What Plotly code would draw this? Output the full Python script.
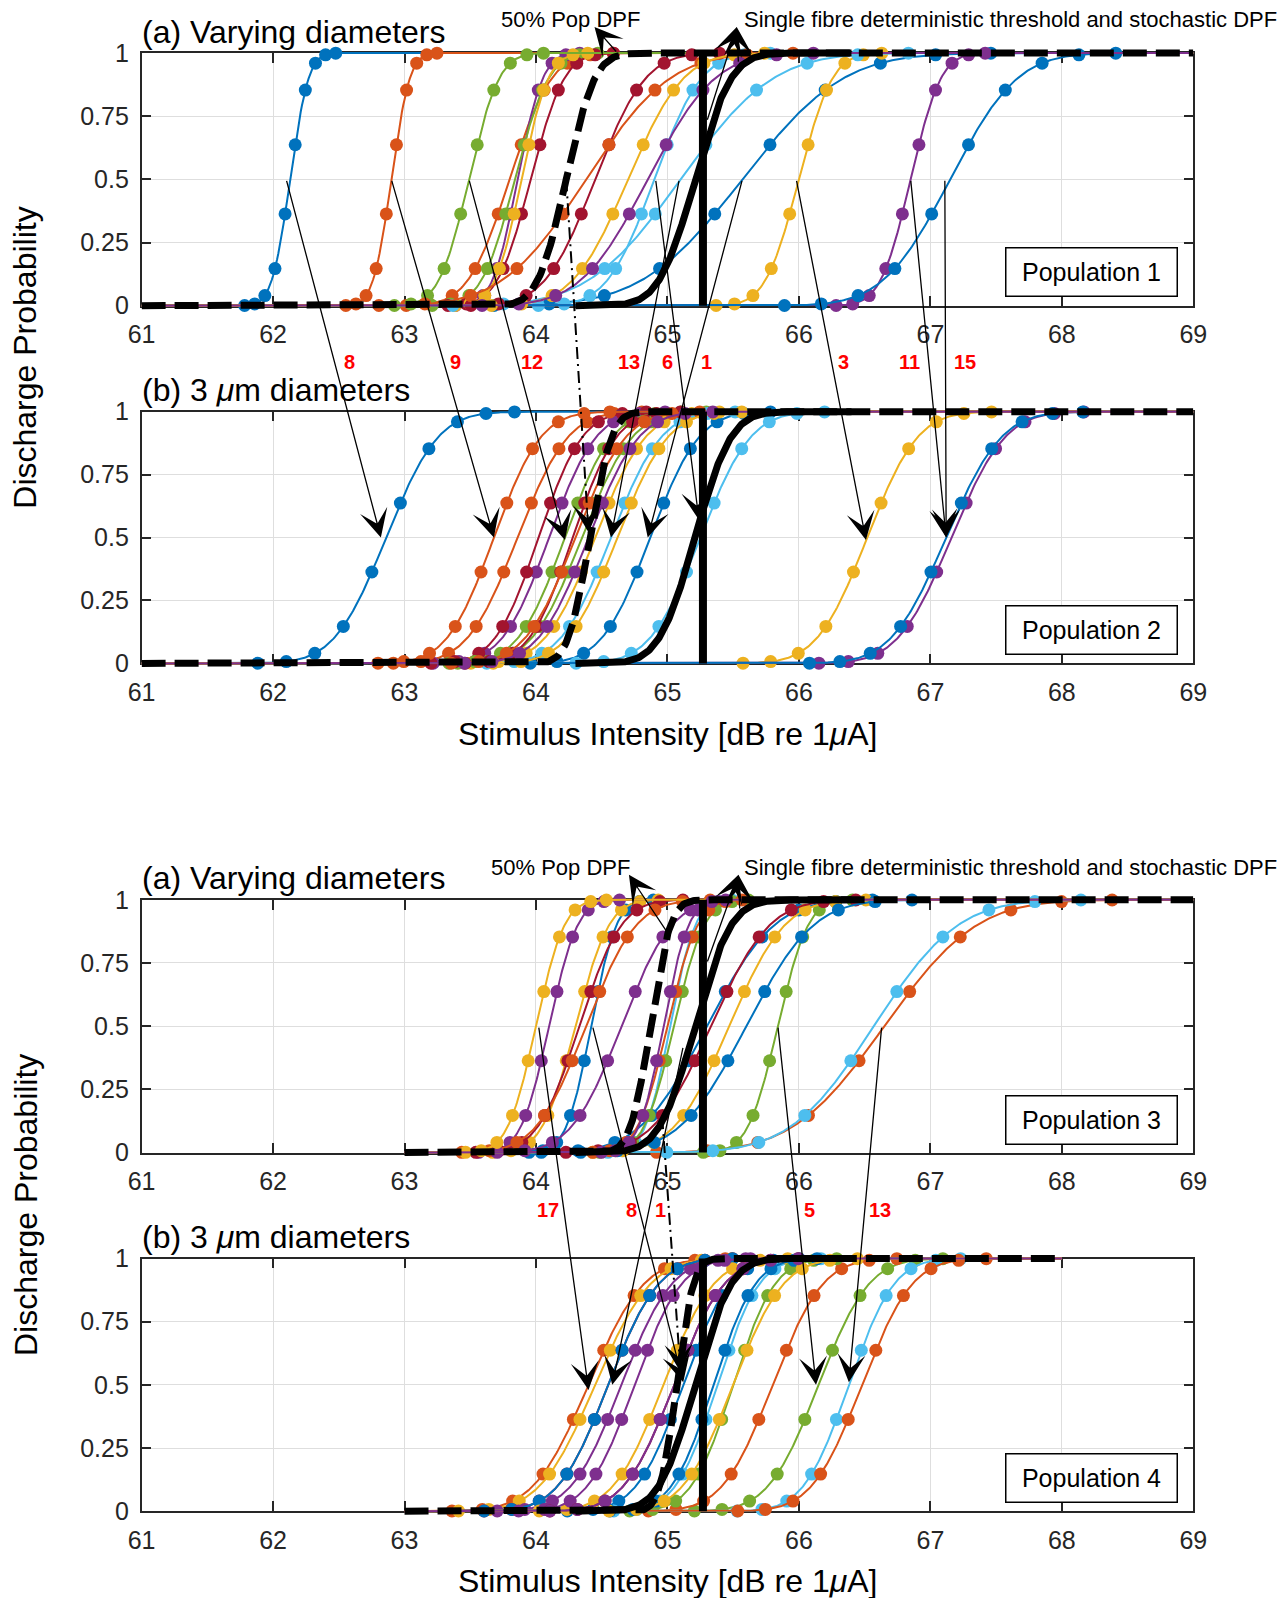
import math
import numpy as np
import plotly.graph_objects as go

W, H = 1284, 1598
FONT = "Liberation Sans, Arial, Helvetica, sans-serif"

COLOURS = {"blue": "#0072BD", "orange": "#D95319", "yellow": "#EDB120",
           "purple": "#7E2F8E", "green": "#77AC30", "cyan": "#4DBEEE",
           "red": "#A2142F"}

x_ticks = [61, 62, 63, 64, 65, 66, 67, 68, 69]
y_ticks = [0, 0.25, 0.5, 0.75, 1]
y_tick_labels = ["0", "0.25", "0.5", "0.75", "1"]

# ---- per-fibre discharge probability fits: colour, 50% threshold, spread (dB) ----
fibre_colour = ["blue", "orange", "yellow", "purple", "green", "cyan", "red",
                "blue", "orange", "yellow", "purple", "green", "cyan", "red",
                "blue", "orange", "yellow", "purple"]

# Population 1, varying diameters
pop1_var_threshold = [65.57, 63.80, 66.00, 63.86, 63.84, 64.90, 63.96, 62.13, 62.90,
                      63.89, 66.85, 63.49, 65.10, 64.45, 67.15, 64.38, 64.70, 64.85]
pop1_var_spread = [0.60, 0.25, 0.20, 0.15, 0.20, 0.28, 0.20, 0.11, 0.11,
                   0.16, 0.18, 0.18, 0.55, 0.30, 0.40, 0.50, 0.33, 0.40]
# Population 1, 3 um diameters
pop1_3um_threshold = [64.87, 63.86, 66.52, 64.10, 64.35, 65.25, 64.02, 62.86, 63.68,
                      64.45, 67.16, 64.22, 64.57, 64.28, 67.12, 64.30, 64.62, 64.40]
pop1_3um_spread = [0.29, 0.30, 0.30, 0.28, 0.30, 0.30, 0.26, 0.31, 0.28,
                   0.30, 0.32, 0.28, 0.30, 0.26, 0.33, 0.30, 0.30, 0.30]
# Population 3, varying diameters
pop3_var_threshold = [64.42, 66.65, 64.30, 64.10, 65.84, 65.02, 64.33, 65.30, 64.38,
                      65.47, 64.65, 65.05, 66.57, 65.33, 65.60, 65.00, 64.00, 64.97]
pop3_var_spread = [0.15, 0.55, 0.20, 0.17, 0.18, 0.15, 0.25, 0.40, 0.30,
                   0.33, 0.30, 0.18, 0.50, 0.35, 0.40, 0.18, 0.17, 0.15]
# Population 4, 3 um diameters
pop4_3um_threshold = [65.12, 64.40, 64.45, 64.65, 66.15, 65.38, 64.55, 64.55, 65.80,
                      64.97, 64.75, 65.50, 66.38, 65.05, 65.35, 66.48, 65.50, 65.05]
pop4_3um_spread = [0.28, 0.33, 0.33, 0.30, 0.30, 0.25, 0.30, 0.30, 0.30,
                   0.30, 0.28, 0.25, 0.27, 0.30, 0.25, 0.30, 0.30, 0.30]

# stimulus levels used per fibre, in units of that fibre's spread around threshold
level_offsets = [-3.15, -2.45, -1.75, -1.05, -0.35, 0.35, 1.05, 1.75, 2.45, 3.15]

# stimulus span of each panel (dB re 1 uA)
panel_span = [(61, 69), (61, 69), (63, 69), (63, 68)]

# single fibre: deterministic threshold and stochastic DPF
single_threshold = 65.27
single_dpf_mu, single_dpf_sd = 65.21, 0.215
single_dpf_span = (64.3, 66.4)

# population DPF per panel
pop_dpf_mu = [64.23, 64.41, 64.87, 65.07]
pop_dpf_sd = [0.17, 0.13, 0.12, 0.10]

# fibre tracking arrows (a)->(b): from (x, p) in upper panel to (x, p) in lower panel
track12_from_x = [62.10, 62.90, 63.49, 65.09, 64.91, 65.57, 65.98, 66.85, 67.11]
track12_from_p = [0.5, 0.5, 0.5, 0.5, 0.5, 0.5, 0.5, 0.5, 0.5]
track12_to_x = [62.82, 63.68, 64.22, 64.57, 65.24, 64.85, 66.51, 67.12, 67.12]
track12_to_p = [0.50, 0.50, 0.49, 0.50, 0.57, 0.50, 0.49, 0.50, 0.50]
track12_labels = ["8", "9", "12", "13", "6", "1", "3", "11", "15"]
track12_label_x = [62.58, 63.39, 63.97, 64.71, 65.00, 65.30, 66.34, 66.84, 67.26]

track34_from_x = [64.02, 64.43, 65.12, 65.84, 66.63]
track34_from_p = [0.50, 0.50, 0.42, 0.50, 0.50]
track34_to_x = [64.40, 65.12, 64.58, 66.13, 66.38]
track34_to_p = [0.48, 0.51, 0.50, 0.50, 0.51]
track34_labels = ["17", "8", "1", "5", "13"]
track34_label_x = [64.09, 64.73, 64.95, 66.08, 66.62]

# population DPF 50% point tracking (dash-dot)
popdpf12 = (64.23, 0.50, 64.40, 0.52)
popdpf34 = (64.96, 0.14, 65.10, 0.55)

# ---- layout geometry (pixels) ----
X_PX = (141.6, 1193.3)
PANEL_PX = [(53.0, 305.7), (411.7, 663.4), (899.8, 1152.5), (1258.5, 1511.2)]
x_domain = [X_PX[0] / W, X_PX[1] / W]
y_domains = [[1 - b / H, 1 - t / H] for t, b in PANEL_PX]
PAD = 0.05  # extra headroom of the data axes so thick lines at 0 and 1 are not clipped


def py(px):
    return 1 - px / H


def paper_y(panel, p):
    d0, d1 = y_domains[panel]
    return d0 + p * (d1 - d0)


def dom_y(panel, paper):
    d0, d1 = y_domains[panel]
    return (paper - d0) / (d1 - d0)


_erf = np.vectorize(math.erf)


def dpf(x, mu, sd):
    return 0.5 * (1 + _erf((np.asarray(x, float) - mu) / (sd * math.sqrt(2))))


panels = [
    (pop1_var_threshold, pop1_var_spread),
    (pop1_3um_threshold, pop1_3um_spread),
    (pop3_var_threshold, pop3_var_spread),
    (pop4_3um_threshold, pop4_3um_spread),
]

fig = go.Figure()
# empty traces so that every framed subplot (axes 1..4) is created
for i in range(4):
    sx = "" if i == 0 else str(i + 1)
    fig.add_trace(go.Scatter(x=[None], y=[None], mode="markers", xaxis="x" + sx,
                             yaxis="y" + sx, hoverinfo="skip", showlegend=False))

for i, (thr, spr) in enumerate(panels):
    # data are drawn on hidden axes 5..8, the visible frame is axes 1..4
    xa, ya = f"x{i + 5}", f"y{i + 5}"
    common = dict(xaxis=xa, yaxis=ya, cliponaxis=False, hoverinfo="skip", showlegend=False)
    lo, hi = panel_span[i]
    grid = np.linspace(lo, hi, 801)
    for c, mu, sd in zip(fibre_colour, thr, spr):
        col = COLOURS[c]
        fig.add_trace(go.Scatter(x=grid, y=dpf(grid, mu, sd), mode="lines",
                                 line=dict(color=col, width=2), **common))
        lv = mu + sd * np.array(level_offsets)
        lv = lv[(lv >= lo) & (lv <= hi)]
        fig.add_trace(go.Scatter(x=lv, y=dpf(lv, mu, sd), mode="markers",
                                 marker=dict(color=col, size=13, line=dict(width=0)),
                                 **common))
    # population DPF
    fig.add_trace(go.Scatter(x=grid, y=dpf(grid, pop_dpf_mu[i], pop_dpf_sd[i]), mode="lines",
                             line=dict(color="black", width=7, dash="24px,9px"), **common))
    # single fibre stochastic DPF
    sg = np.linspace(single_dpf_span[0], single_dpf_span[1], 400)
    fig.add_trace(go.Scatter(x=sg, y=dpf(sg, single_dpf_mu, single_dpf_sd), mode="lines",
                             line=dict(color="black", width=7), **common))
    # single fibre deterministic threshold
    fig.add_trace(go.Scatter(x=[single_threshold, single_threshold], y=[0, 1], mode="lines",
                             line=dict(color="black", width=8), **common))

axis_common = dict(showgrid=True, gridcolor="#dedede", gridwidth=1, zeroline=False,
                   showline=True, linecolor="#262626", linewidth=1.5, mirror="ticks",
                   ticks="inside", ticklen=10, tickwidth=1.5, tickcolor="#262626",
                   tickfont=dict(family=FONT, size=25, color="#262626"),
                   automargin=False, fixedrange=True)
hidden = dict(visible=False, showgrid=False, zeroline=False, showline=False,
              automargin=False, fixedrange=True)
layout = dict(template="none", width=W, height=H, autosize=False,
              margin=dict(l=0, r=0, t=0, b=0, pad=0),
              paper_bgcolor="white", plot_bgcolor="rgba(0,0,0,0)", showlegend=False)
for i in range(4):
    sx = "" if i == 0 else str(i + 1)
    layout["xaxis" + sx] = dict(axis_common, domain=x_domain, range=[61, 69],
                                tickvals=x_ticks, anchor="y" + sx, ticklabelstandoff=6)
    layout["yaxis" + sx] = dict(axis_common, domain=y_domains[i], range=[0, 1],
                                tickvals=y_ticks, ticktext=y_tick_labels,
                                anchor="x" + sx, ticklabelstandoff=6)
    d0, d1 = y_domains[i]
    h = d1 - d0
    sd_ = str(i + 5)
    layout["xaxis" + sd_] = dict(hidden, domain=x_domain, range=[61, 69], anchor="y" + sd_)
    layout["yaxis" + sd_] = dict(hidden, domain=[d0 - PAD * h, d1 + PAD * h],
                                 range=[-PAD, 1 + PAD], anchor="x" + sd_)
fig.update_layout(**layout)

ann = []
shapes = []


def arrow(x0, y0, x1, y1, ref_panel):
    # tail (x0, y0) -> head (x1, y1); x in data, y in paper units,
    # placed in the domain frame of ref_panel's y axis
    yname = "y" if ref_panel == 0 else f"y{ref_panel + 1}"
    ann.append(dict(x=x1, y=dom_y(ref_panel, y1), xref="x", yref=yname + " domain",
                    ax=x0, ay=dom_y(ref_panel, y0), axref="x", ayref=yname + " domain",
                    text="", showarrow=True,
                    arrowhead=3, arrowsize=3.6, arrowwidth=1.3, arrowcolor="black",
                    standoff=0, startstandoff=0))


def text(x, y, s, size, xanchor="center", yanchor="middle", color="black", xref="x",
         **kw):
    ann.append(dict(x=x, y=y, xref=xref, yref="paper", text=s, showarrow=False,
                    xanchor=xanchor, yanchor=yanchor,
                    font=dict(family=FONT, size=size, color=color), **kw))


# panel titles
titles = ["(a) Varying diameters", "(b) 3 <i>μ</i>m diameters",
          "(a) Varying diameters", "(b) 3 <i>μ</i>m diameters"]
title_px = [31.6, 390.3, 878.4, 1237.1]
for s, ty in zip(titles, title_px):
    text(61, py(ty), s, 32, xanchor="left", xshift=-2)

# population boxes
box_px = [271.6, 630.3, 1120.0, 1478.1]
for k, by in enumerate(box_px):
    text(68.225, py(by), f"Population {k + 1}", 25, bordercolor="black", borderwidth=1.5,
         borderpad=0, bgcolor="white", width=170, height=47)

# axis labels
for cy in (358.2, 1205.5):
    text(25.5 / W, py(cy), "Discharge Probability", 32, xref="paper", textangle=-90)
for cy in (733.7, 1580.6):
    text(0.5 * (x_domain[0] + x_domain[1]), py(cy),
         "Stimulus Intensity [dB re 1<i>μ</i>A]", 32, xref="paper")

# top annotations with arrows
for (pnl, txt_px, popx, singx, pop_tail, single_tails, pop_head_x, single_head_x) in [
        (0, 19.4, 64.264, 65.566, (64.62, 1.0), [(65.30, 0.73), (65.54, 0.96)], 64.445, 65.527),
        (2, 867.2, 64.187, 65.566, (65.02, 0.854), [(65.30, 0.75), (65.55, 0.96)], 64.707, 65.54)]:
    text(popx, py(txt_px), "50% Pop DPF", 22)
    text(singx, py(txt_px), "Single fibre deterministic threshold and stochastic DPF", 22,
         xanchor="left")
    head_y = py(txt_px + 7.5)
    arrow(pop_tail[0], paper_y(pnl, pop_tail[1]), pop_head_x, head_y, pnl)
    for tx, tp in single_tails:
        arrow(tx, paper_y(pnl, tp), single_head_x, head_y, pnl)

# fibre tracking arrows and fibre numbers
for (fx, fp, tx, tp, labs, lx, top, lab_px) in [
        (track12_from_x, track12_from_p, track12_to_x, track12_to_p, track12_labels,
         track12_label_x, 0, 361.8),
        (track34_from_x, track34_from_p, track34_to_x, track34_to_p, track34_labels,
         track34_label_x, 2, 1209.6)]:
    for a, b, c, d in zip(fx, fp, tx, tp):
        arrow(a, paper_y(top, b), c, paper_y(top + 1, d), top + 1)
    for s, x in zip(labs, lx):
        text(x, py(lab_px), f"<b>{s}</b>", 20, color="#FF0000")

# population DPF 50% tracking (dash-dot with head)
for top, (a, b, c, d) in ((0, popdpf12), (2, popdpf34)):
    y0, y1 = paper_y(top, b), paper_y(top + 1, d)
    shapes.append(dict(type="line", xref="x", yref="paper", x0=a, y0=y0, x1=c, y1=y1,
                       line=dict(color="black", width=2, dash="12px,5px,2px,5px")))
    t = 0.93
    arrow(a + t * (c - a), y0 + t * (y1 - y0), c, y1, top + 1)

fig.update_layout(annotations=ann, shapes=shapes)
fig.write_html("out.html")
